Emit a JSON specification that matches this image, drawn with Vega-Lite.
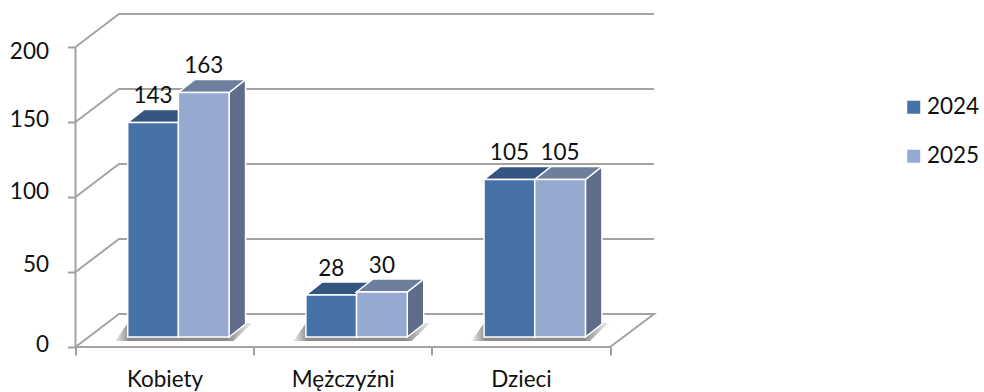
{
"$schema":"https://vega.github.io/schema/vega-lite/v6.json",
"width":908.7,"height":347,
"autosize":"none",
"padding":{"left":75.5,"top":0,"right":0,"bottom":45},
"background":"white",
"config":{"view":{"stroke":null},"font":"Lato","text":{"font":"Lato"}},
"encoding":{
 "x":{"field":"x","type":"quantitative","scale":{"domain":[0,5.1],"nice":false,"zero":false},
  "axis":{"title":null,"grid":false,"domain":false,"values":[0,0.5,1,1.5,2,2.5,3],
   "labelExpr":"datum.value==0.5?'Kobiety':datum.value==1.5?'Mężczyźni':datum.value==2.5?'Dzieci':''",
   "tickOpacity":{"expr":"datum.value%1==0?1:0"},"tickColor":"#a0a0a0","tickWidth":2,"tickSize":8,
   "labelFont":"Lato","labelFontSize":22.5,"labelColor":"#111111","labelPadding":14,"labelFlush":false,"labelOverlap":false}},
 "y":{"field":"y","type":"quantitative","scale":{"domain":[0,231.33],"nice":false,"zero":false},
  "axis":{"title":null,"grid":false,"domain":false,"values":[0,50,100,150,200],"tickColor":"#a0a0a0","tickWidth":2,"tickSize":8,
   "labelFont":"Lato","labelFontSize":22.5,"labelColor":"#111111","labelPadding":19,"labelOverlap":false,
   "labelOffset":{"expr":"datum.value==200?5:datum.value==150?-2:datum.value==100?-5:datum.value==50?-7:-2"}}}
},
"layer":[
 {"data":{"values":[{"level":0},{"level":50},{"level":100},{"level":150},{"level":200}]},
  "transform":[
   {"calculate":"[0,1,2,3,4]","as":"p"},{"flatten":["p"]},
   {"filter":"datum.level==0||datum.p<3"},
   {"calculate":"[0,0.244,3.247,3,0][datum.p]","as":"x"},
   {"calculate":"datum.level+(datum.p==1||datum.p==2?22:0)","as":"y"}],
  "mark":{"type":"line","color":"#a3a3a3","strokeWidth":2},
  "encoding":{"detail":{"field":"level"},"order":{"field":"p"}}},
 {"data":{"values":[{"tick":0},{"tick":200}]},
  "transform":[{"calculate":"0","as":"x"},{"calculate":"datum.tick","as":"y"}],
  "mark":{"type":"line","color":"#a3a3a3","strokeWidth":2},"encoding":{"order":{"field":"tick"}}},
 {"data":{"values":[
   {"category":"Kobiety","series":"2024","value":143},{"category":"Kobiety","series":"2025","value":163},
   {"category":"Mężczyźni","series":"2024","value":28},{"category":"Mężczyźni","series":"2025","value":30},
   {"category":"Dzieci","series":"2024","value":105},{"category":"Dzieci","series":"2025","value":105}]},
  "transform":[
   {"calculate":"indexof(['Kobiety','Mężczyźni','Dzieci'],datum.category)","as":"idx"},
   {"calculate":"datum.idx+0.293+(datum.series=='2025'?0.2845:0)","as":"left"},
   {"calculate":"datum.left+0.2845","as":"right"}],
  "layer":[
   {"transform":[{"filter":"datum.series=='2024'"},{"calculate":"[0,1]","as":"t"},{"flatten":["t"]},
     {"calculate":"datum.t==0?4:16","as":"y"},
     {"calculate":"datum.t==0?datum.left-0.07:datum.left","as":"x"},
     {"calculate":"datum.left+0.569+(datum.t==0?0.025:0.13)","as":"xe"}],
    "mark":{"type":"area","orient":"horizontal","color":{"x1":0,"y1":0,"x2":1,"y2":0,"gradient":"linear","stops":[{"offset":0,"color":"#eeeeee"},{"offset":0.1,"color":"#8c8c8c"},{"offset":0.82,"color":"#8c8c8c"},{"offset":1,"color":"#f0f0f0"}]}},
    "encoding":{"x2":{"field":"xe"},"detail":{"field":"category"}}},
   {"transform":[{"filter":"datum.series=='2024'"},{"calculate":"[0,1]","as":"t"},{"flatten":["t"]},
     {"calculate":"datum.right+datum.t*0.0926","as":"x"},{"calculate":"6.67+datum.t*8.67","as":"yb"},{"calculate":"datum.value+datum.yb","as":"y"}],
    "mark":{"type":"area","orient":"vertical","color":"#33557f","stroke":"white","strokeWidth":1.5},
    "encoding":{"y2":{"field":"yb"},"detail":{"field":"category"}}},
   {"transform":[{"filter":"datum.series=='2024'"},{"calculate":"[0,1]","as":"t"},{"flatten":["t"]},
     {"calculate":"datum.left+datum.t*0.0926","as":"x"},{"calculate":"datum.right+datum.t*0.0926","as":"xe"},{"calculate":"datum.value+6.67+datum.t*8.67","as":"y"}],
    "mark":{"type":"area","orient":"horizontal","color":"#33557f","stroke":"white","strokeWidth":1.5},
    "encoding":{"x2":{"field":"xe"},"detail":{"field":"category"}}},
   {"transform":[{"filter":"datum.series=='2024'"},{"calculate":"datum.left","as":"x"},{"calculate":"datum.value+6.67","as":"y"},{"calculate":"6.67","as":"yb"}],
    "mark":{"type":"rect","stroke":"white","strokeWidth":1.5},
    "encoding":{"x2":{"field":"right"},"y2":{"field":"yb"},
     "color":{"field":"series","type":"nominal","scale":{"domain":["2024","2025"],"range":["#4672a8","#95a9d1"]},
      "legend":{"title":null,"orient":"none","legendX":827,"legendY":96,"symbolType":"square","symbolSize":169,"symbolStrokeWidth":0,"labelFont":"Lato","labelFontSize":22.5,"labelColor":"#111111","rowPadding":26,"labelOffset":2,"symbolOpacity":1}}}},
   {"transform":[{"filter":"datum.series=='2025'"},{"calculate":"[0,1]","as":"t"},{"flatten":["t"]},
     {"calculate":"datum.right+datum.t*0.0926","as":"x"},{"calculate":"6.67+datum.t*8.67","as":"yb"},{"calculate":"datum.value+datum.yb","as":"y"}],
    "mark":{"type":"area","orient":"vertical","color":"#5f6d8a","stroke":"white","strokeWidth":1.5},
    "encoding":{"y2":{"field":"yb"},"detail":{"field":"category"}}},
   {"transform":[{"filter":"datum.series=='2025'"},{"calculate":"[0,1]","as":"t"},{"flatten":["t"]},
     {"calculate":"datum.left+datum.t*0.0926","as":"x"},{"calculate":"datum.right+datum.t*0.0926","as":"xe"},{"calculate":"datum.value+6.67+datum.t*8.67","as":"y"}],
    "mark":{"type":"area","orient":"horizontal","color":"#6e7f9d","stroke":"white","strokeWidth":1.5},
    "encoding":{"x2":{"field":"xe"},"detail":{"field":"category"}}},
   {"transform":[{"filter":"datum.series=='2025'"},{"calculate":"datum.left","as":"x"},{"calculate":"datum.value+6.67","as":"y"},{"calculate":"6.67","as":"yb"}],
    "mark":{"type":"rect","stroke":"white","strokeWidth":1.5},
    "encoding":{"x2":{"field":"right"},"y2":{"field":"yb"},
     "color":{"field":"series","type":"nominal","scale":{"domain":["2024","2025"],"range":["#4672a8","#95a9d1"]}}}},
   {"transform":[{"calculate":"(datum.left+datum.right)/2","as":"x"},{"calculate":"datum.value+6.67+12.67","as":"y"}],
    "mark":{"type":"text","align":"center","baseline":"alphabetic","font":"Lato","fontSize":22.5,"color":"#111111"},
    "encoding":{"text":{"field":"value","type":"quantitative"}}}
  ]}
]
}
